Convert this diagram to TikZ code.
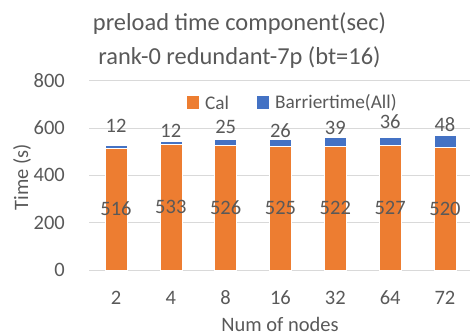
\documentclass[tikz,border=0pt]{standalone}
\usepackage{fontspec}
\setmainfont{Carlito}
\definecolor{txt}{HTML}{595959}
\definecolor{grid}{HTML}{D9D9D9}
\definecolor{calc}{HTML}{ED7D31}
\definecolor{barr}{HTML}{4472C4}
\tikzset{
  lbl/.style={text=txt, inner sep=0pt, font=\fontsize{20.5}{24}\selectfont},
  ttl/.style={text=txt, inner sep=0pt, font=\fontsize{24.4}{28}\selectfont},
  leg/.style={text=txt, inner sep=0pt, font=\fontsize{19.3}{23}\selectfont},
  gridline/.style={draw=grid, line width=0.8pt},
  calbar/.style={fill=calc, draw=white, line width=0.4pt},
  barbar/.style={fill=barr, draw=white, line width=0.4pt},
}
\begin{document}
\begin{tikzpicture}[x=1pt,y=1pt]
\useasboundingbox (0,0) rectangle (470,335);
% title (y = 335 - ypx)
\node[ttl, anchor=base] (t1) at (239.5,304) {preload time component(sec)};
\node[ttl, anchor=base] (t2) at (239.5,270) {rank-0 redundant-7p (bt=16)};
% grid
\foreach \v/\n in {0/g0,200/g2,400/g4,600/g6,800/g8}{
  \draw[gridline] (89,{65+\v*0.2365}) -- (470,{65+\v*0.2365});
  \node[lbl, anchor=east] (\n) at (65,{65+\v*0.2365}) {\v};
}
% axis title
\node[lbl, rotate=90] (yt) at (22,158) {Time (s)};
% legend
\fill[calc] (187,226) rectangle (199,239);
\node[leg, anchor=west] (lc) at (205,232) {Cal};
\fill[barr] (257,226) rectangle (269,239);
\node[leg, anchor=west] (lb) at (275,232) {Barriertime(All)};
% bars
\foreach \i/\c/\b/\x/\ly in {0/516/12/2/208.7, 1/533/12/4/204, 2/526/25/8/207.7, 3/525/26/16/204, 4/522/39/32/207.5, 5/527/36/64/213.5, 6/520/48/72/210}{
  \pgfmathsetmacro{\cx}{116+\i*54.83}
  \draw[calbar] ({\cx-11},65) rectangle ({\cx+11},{65+\c*0.2365});
  \draw[barbar] ({\cx-11},{65+\c*0.2365}) rectangle ({\cx+11},{65+(\c+\b)*0.2365});
  \node[lbl] (c\i) at (\cx,{65+\c*0.2365/2}) {\c};
  \node[lbl] (b\i) at (\cx,\ly) {\b};
  \node[lbl] (x\i) at (\cx,37) {\x};
}
\node[lbl] (xt) at (280,11) {Num of nodes};
\end{tikzpicture}
\end{document}
